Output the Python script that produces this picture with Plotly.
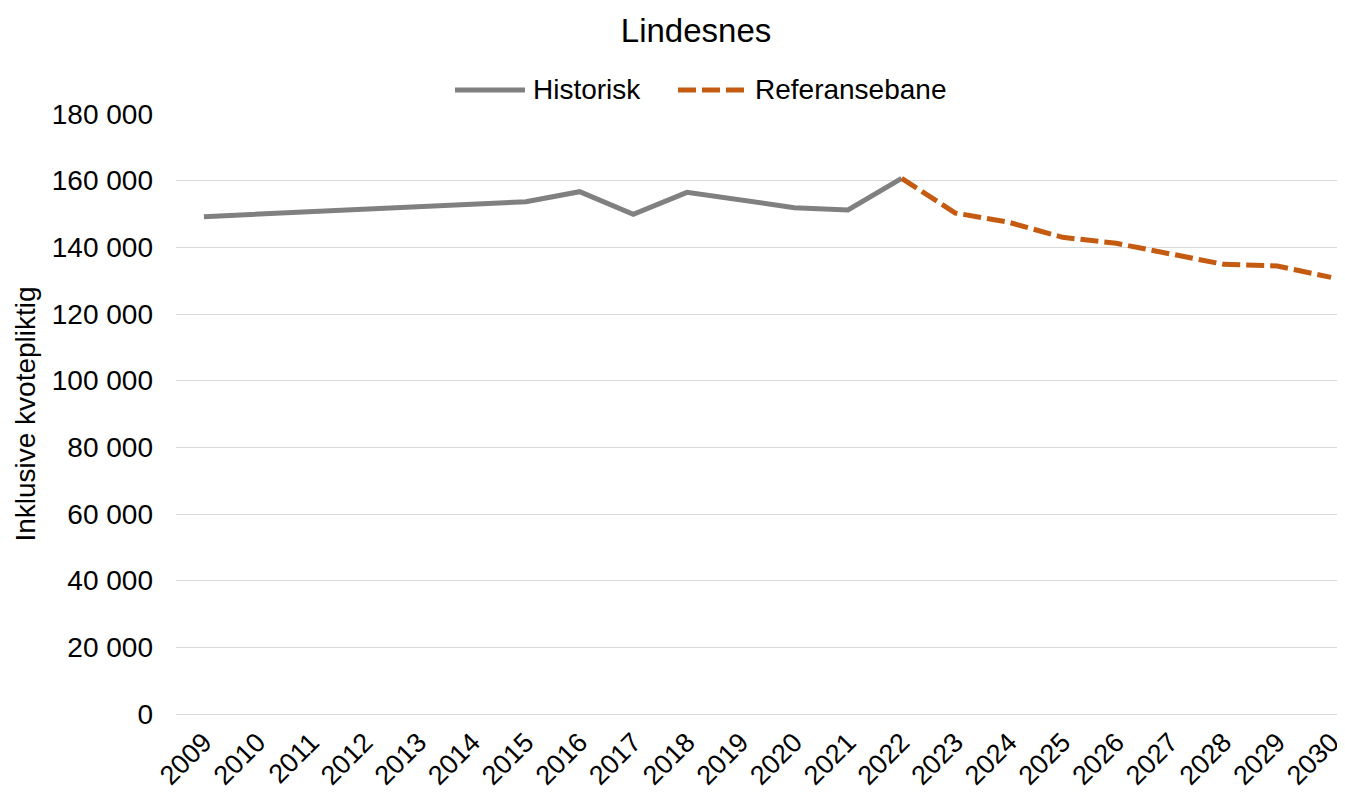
import plotly.graph_objects as go

# Lindesnes - utslipp inkl. kvotepliktig
hist_years = list(range(2009, 2023))
hist_values = [149200, 150000, 150700, 151500, 152200, 153000, 153700,
               156700, 149900, 156500, 154200, 151900, 151200, 160700]

ref_years = list(range(2022, 2031))
ref_values = [160700, 150300, 147500, 143000, 141200, 138200, 134900, 134400, 131000]

y_ticks = list(range(0, 180001, 20000))
y_ticklabels = [f"{v:,}".replace(",", " ") for v in y_ticks]

FONT = "Liberation Sans, Arial, sans-serif"
GREY = "#808080"
ORANGE = "#c55a11"
DASH = "18px,6px"

# page has an 8px body margin, so the figure is sized to fit the window
W, H = 1337, 784
ML, MT, MB = 168, 106, 78
PW, PH = W - ML, H - MT - MB


def px_x(x):
    return (x - ML) / PW


def px_y(y):
    return (H - MB - y) / PH


fig = go.Figure()

fig.add_trace(go.Scatter(
    x=hist_years, y=hist_values,
    mode="lines",
    name="Historisk",
    line=dict(color=GREY, width=5),
))

fig.add_trace(go.Scatter(
    x=ref_years, y=ref_values,
    mode="lines",
    name="Referansebane",
    line=dict(color=ORANGE, width=5, dash=DASH),
))

# legend drawn by hand so the symbol lines are as long as in the original
legend_y = px_y(82)
shapes = [
    dict(type="line", xref="paper", yref="paper",
         x0=px_x(447), x1=px_x(517), y0=legend_y, y1=legend_y,
         line=dict(color=GREY, width=5)),
    dict(type="line", xref="paper", yref="paper",
         x0=px_x(670), x1=px_x(737), y0=legend_y, y1=legend_y,
         line=dict(color=ORANGE, width=5, dash=DASH)),
]
annotations = [
    dict(text="Historisk", xref="paper", yref="paper", x=px_x(523), y=legend_y,
         xanchor="left", yanchor="middle", showarrow=False, font=dict(size=28)),
    dict(text="Referansebane", xref="paper", yref="paper", x=px_x(745), y=legend_y,
         xanchor="left", yanchor="middle", showarrow=False, font=dict(size=28)),
]

fig.update_layout(
    width=W, height=H,
    margin=dict(l=ML, r=0, t=MT, b=MB),
    paper_bgcolor="white",
    plot_bgcolor="white",
    font=dict(family=FONT, size=27, color="#000000"),
    title=dict(text="Lindesnes", x=0.5146, xanchor="center", y=0.972, yanchor="middle",
               font=dict(size=33)),
    showlegend=False,
    shapes=shapes,
    annotations=annotations,
)

fig.update_xaxes(
    range=[2008.48, 2030.26],
    tickmode="array",
    tickvals=list(range(2009, 2031)),
    ticktext=[str(y) for y in range(2009, 2031)],
    tickangle=-45,
    showgrid=False,
    zeroline=False,
    showline=False,
    ticks="",
    ticklabelstandoff=6,
    automargin=False,
    tickfont=dict(size=27),
)

fig.update_yaxes(
    range=[0, 180000],
    tickmode="array",
    tickvals=y_ticks,
    ticktext=y_ticklabels,
    showgrid=True,
    gridcolor="#d9d9d9",
    gridwidth=1.3,
    zeroline=True,
    zerolinecolor="#d9d9d9",
    zerolinewidth=1.3,
    showline=False,
    ticks="",
    ticklabelstandoff=22,
    automargin=False,
    tickfont=dict(size=28),
    title=dict(text="Inklusive kvotepliktig", font=dict(size=28), standoff=7),
)

fig.write_html("out.html")
